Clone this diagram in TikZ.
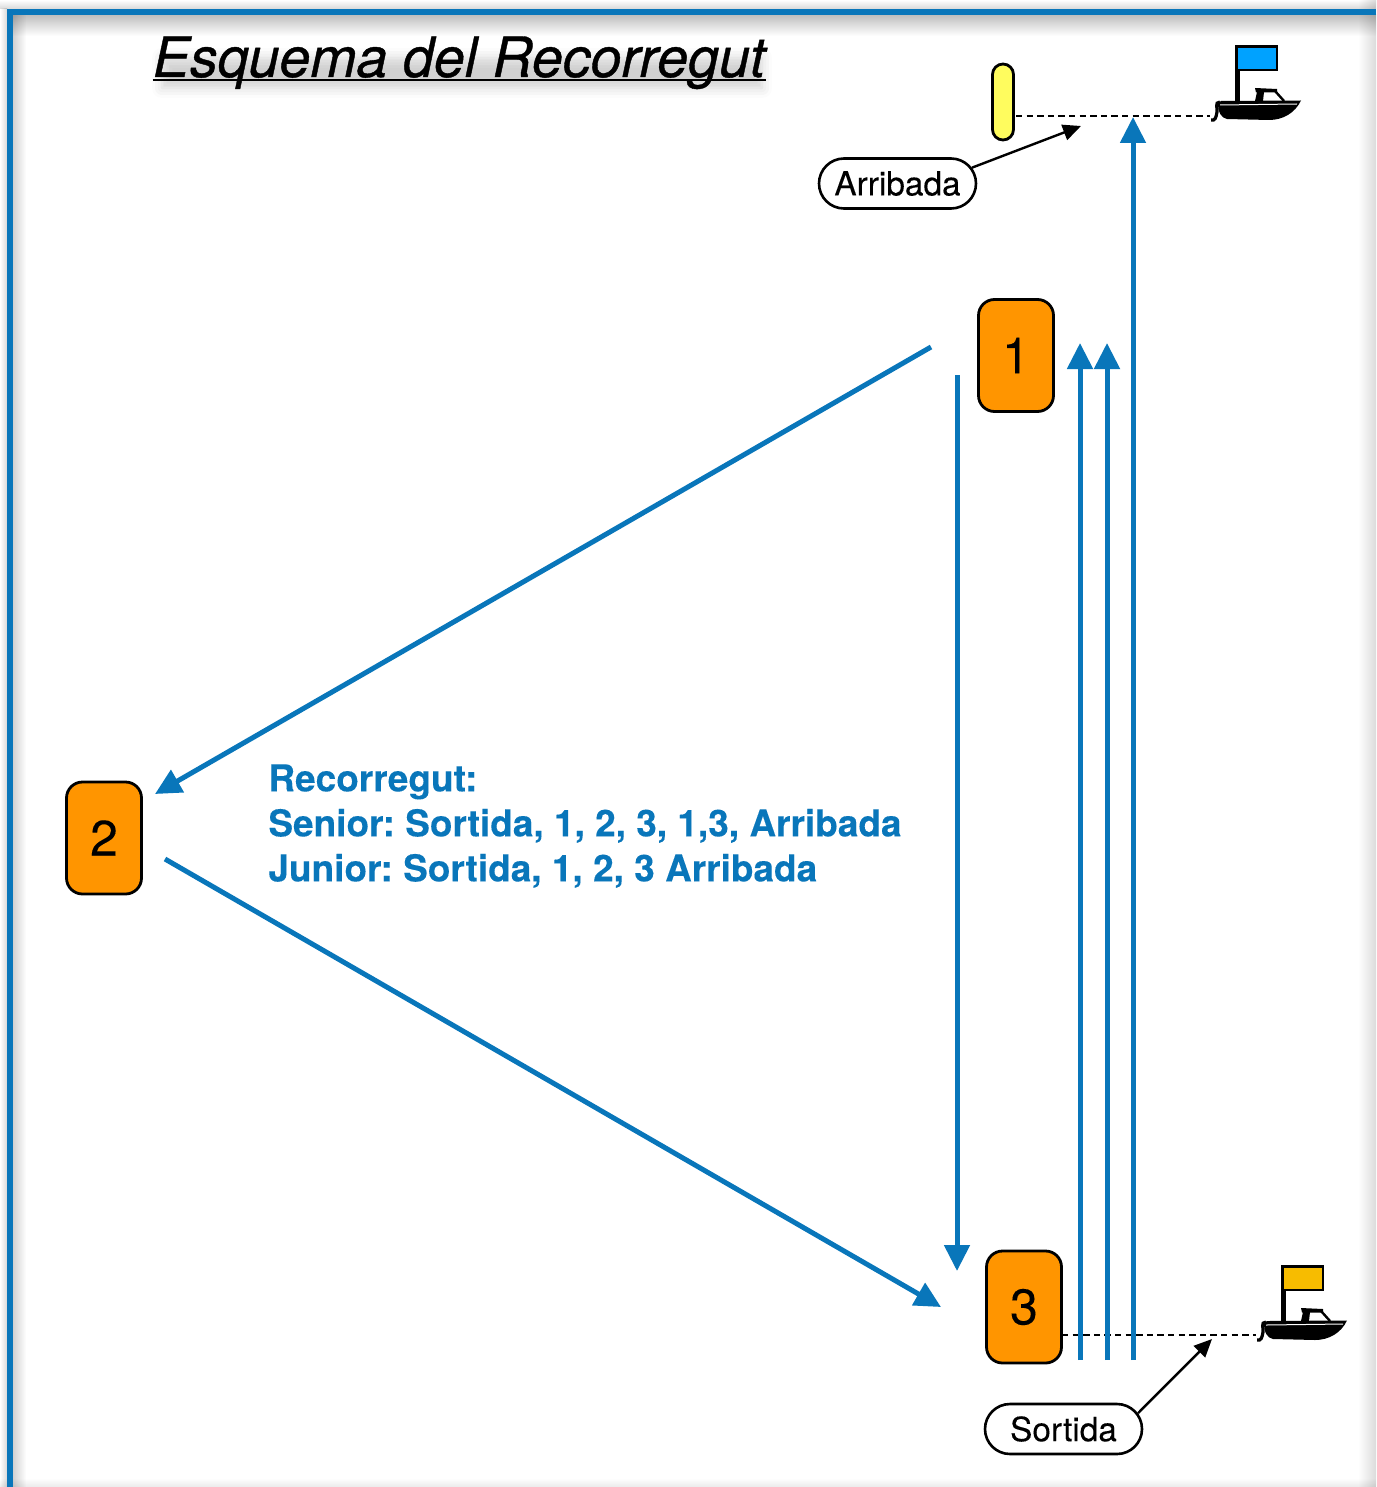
\documentclass[tikz,border=0pt]{standalone}
\usepackage{fontspec}
\setmainfont{TeX Gyre Heros}[FakeBold=0.15]
\newfontfamily\titlefont{TeX Gyre Heros}[ItalicFeatures={FakeBold=0.7}]
\usepackage{tikz}
\usetikzlibrary{arrows.meta,shapes.misc,shadows.blur}

\definecolor{routeblue}{HTML}{0976BA}
\definecolor{markorange}{HTML}{FF9500}
\definecolor{buoyyellow}{HTML}{FFFC5E}
\definecolor{flagblue}{HTML}{00A2FF}
\definecolor{flagyellow}{HTML}{F7BC00}

\tikzset{
	markbox/.style={draw=black, line width=1.4pt, fill=markorange, rounded corners=8pt, minimum width=37.5pt, minimum height=56pt, inner sep=0pt, font=\fontsize{25}{25}\selectfont},
	pill/.style={draw=black, line width=1.3pt, fill=white, rounded rectangle, minimum width=78.5pt, minimum height=25pt, inner sep=0pt, font=\fontsize{16.7}{16.7}\selectfont},
	route/.style={draw=routeblue, line width=2.5pt, -{Triangle[length=13pt,width=12.5pt]}},
	pointer/.style={draw=black, line width=1.2pt, -{Triangle[length=9pt,width=8pt]}},
	startline/.style={draw=black, line width=1.3pt, dash pattern=on 3.2pt off 2.1pt},
	pics/boat/.style={code={
		\fill[black] (0,0) rectangle (5,57);
		\draw[black, line width=1.4pt, fill=#1] (1.5,1.5) rectangle (42,25);
		\fill[black] (20,43) -- (42,44) -- (42,47.5) -- (21,47.5) -- cycle;
		\fill[black] (22,47) -- (29,47) -- (28,56) -- (20,56) -- cycle;
		\draw[black, line width=1.2pt] (40,46) -- (49,56);
		\fill[black] (-17,58) -- (-14,56) -- (66,55.5) .. controls (60,68) and (48,75) .. (34,75) -- (-8,74) .. controls (-14,73) and (-17,67) .. (-17,58) -- cycle;
		\draw[white, line width=0.5pt] (-15,60) -- (62,59);
		\draw[black, line width=1.6pt] (-15,57) .. controls (-21,57) and (-17,64) .. (-18,67) .. controls (-19,73) and (-20,76) .. (-24,75);
	}}
}

\begin{document}
\begin{tikzpicture}[x=0.5pt, y=-0.5pt]
		\useasboundingbox (0,0) rectangle (1376,1487);
		
		% soft edge of the sheet
		\begin{scope}[blend mode=multiply]
		\shade[top color=black!25, bottom color=white] (13,15) rectangle (1376,36);
		\shade[top color=white, bottom color=black!15] (0,0) rectangle (1376,9);
		\shade[left color=white, right color=black!14] (1358,0) rectangle (1376,1487);
		\shade[top color=white, bottom color=black!8] (0,1478) rectangle (1376,1487);
		\shade[left color=black!18, right color=white] (13,15) rectangle (26,1487);
		\shade[left color=white, right color=black!15] (0,9) rectangle (7,1487);
		\end{scope}
		\draw[routeblue, line width=3pt] (10,1487) -- (10,12) -- (1376,12);
		
		\path[blur shadow={shadow xshift=1pt, shadow yshift=-4pt, shadow blur radius=5pt, shadow opacity=18}] (160,50) rectangle (760,80);
		\node[anchor=base west, inner sep=0pt, font=\fontsize{27.8}{27.8}\selectfont\titlefont\itshape] (title) at (152.5,77) {Esquema del Recorregut};
		\draw[black, line width=1.3pt] ([yshift=-1.6pt]title.base west) -- ([yshift=-1.6pt]title.base east);
		
		\node[markbox] (1) at (1016,355.5) {1};
		\node[markbox] (2) at (104,838) {2};
		\node[markbox] (3) at (1024,1307) {3};
		
		\node[draw=black, line width=1.4pt, fill=buoyyellow, rounded rectangle, rotate=90, minimum width=38pt, minimum height=10.5pt, inner sep=0pt] (buoy) at (1003,102) {};
		
		\pic (boatA) at (1235,45) {boat=flagblue};
		\pic (boatB) at (1281,1265) {boat=flagyellow};
		
		\node[pill] (arribada) at (897.5,183.5) {Arribada};
		\node[pill] (sortida) at (1063.5,1429) {Sortida};
		
		\node[anchor=north west, inner sep=0pt, align=left, text=routeblue, font=\fontsize{18.5}{22.5}\selectfont\bfseries\frenchspacing] (text) at (268,764) {Recorregut:\\Senior: Sortida, 1, 2, 3, 1,3, Arribada\\Junior: Sortida, 1, 2, 3 Arribada};
		
		% free ends of the connectors
		\coordinate (a) at (931,347);
		\coordinate (b) at (155,794);
		\coordinate (c) at (165,859);
		\coordinate (d) at (941,1307);
		\coordinate (e) at (957,375);
		\coordinate (f) at (957,1271);
		\coordinate (g1) at (1080,1360);
		\coordinate (g2) at (1080,343);
		\coordinate (h1) at (1107,1360);
		\coordinate (h2) at (1107,343);
		\coordinate (i1) at (1133,1360);
		\coordinate (i2) at (1133,117);
		\coordinate (j1) at (1016,116);
		\coordinate (j2) at (1210,116);
		\coordinate (k1) at (1256,1335);
		\coordinate (k2) at (1062,1335);
		\coordinate (l) at (1081,126);
		\coordinate (m) at (1212,1339);
		
		\draw[startline] (j1) -- (j2);
		\draw[startline] (k2) -- (k1);
		
		\draw[route] (a) -- (b);
		\draw[route] (c) -- (d);
		\draw[route] (e) -- (f);
		\draw[route] (g1) -- (g2);
		\draw[route] (h1) -- (h2);
		\draw[route] (i1) -- (i2);
		
		\draw[pointer] (arribada.12) -- (l);
		\draw[pointer] (sortida.12) -- (m);
\end{tikzpicture}
\end{document}
